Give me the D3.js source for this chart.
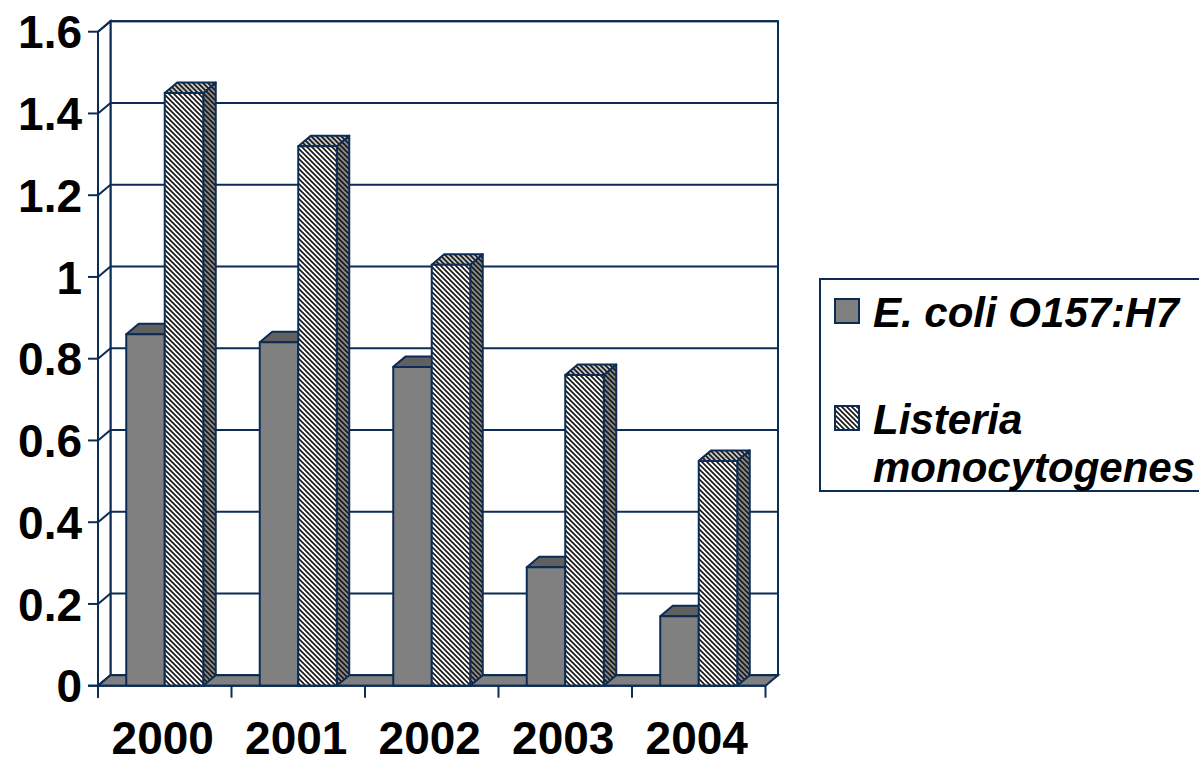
<!DOCTYPE html>
<html>
  <head>
    <script src="https://d3js.org/d3.v7.min.js"></script>
    <style>
      body { margin: 0; background: #fff; }
      svg { display: block; }
      .lbl { font-family: "Liberation Sans", Arial, sans-serif; font-weight: bold; fill: #000; }
    </style>
  </head>
  <body>
    <div id="chart"></div>
    <script>
      // data
      const years = ["2000", "2001", "2002", "2003", "2004"];
      const seriesNames = ["E. coli O157:H7", "Listeria monocytogenes"];
      const ecoli = [0.86, 0.84, 0.78, 0.29, 0.17];
      const listeria = [1.45, 1.32, 1.03, 0.76, 0.55];
      const yTicks = [0, 0.2, 0.4, 0.6, 0.8, 1, 1.2, 1.4, 1.6];

      const W = 1199, H = 757;
      const navy = "#0c2c55";
      const dx = 12.5, dy = -10.5; // 3d depth offset

      const svg = d3.select("#chart").append("svg")
        .attr("width", W).attr("height", H);

      // hatch patterns
      const defs = svg.append("defs");
      function hatch(id, bg) {
        const p = defs.append("pattern")
          .attr("id", id)
          .attr("patternUnits", "userSpaceOnUse")
          .attr("width", 5).attr("height", 5);
        p.append("rect").attr("width", 5).attr("height", 5).attr("fill", bg);
        p.append("path")
          .attr("d", "M-1,-1 L6,6 M-1,4 L1,6 M4,-1 L6,1")
          .attr("stroke", "#1a1a1a").attr("stroke-width", 1.7);
      }
      hatch("hFront", "#ffffff");
      hatch("hTop", "#c8c8c8");
      hatch("hSide", "#8a8a8a");

      const x0 = d3.scaleBand().domain(years).range([98, 765.5]);
      const x1 = d3.scaleBand().domain(seriesNames).range([28.25, x0.bandwidth() - 28.25]);
      const y = d3.scaleLinear().domain([0, 1.6]).range([685.7, 31.7]);

      const xL = x0.range()[0], xR = x0.range()[1];
      const y0 = y(0), yTop = y(1.6);

      // back wall
      svg.append("rect")
        .attr("x", xL + dx).attr("y", yTop + dy)
        .attr("width", xR - xL).attr("height", y0 - yTop)
        .attr("fill", "#fff").attr("stroke", navy).attr("stroke-width", 2);

      // left wall
      svg.append("path")
        .attr("d", `M${xL},${yTop} L${xL + dx},${yTop + dy} L${xL + dx},${y0 + dy} L${xL},${y0} Z`)
        .attr("fill", "#fff").attr("stroke", navy).attr("stroke-width", 2);

      // gridlines
      const grid = svg.append("g").attr("stroke", navy).attr("stroke-width", 2).attr("fill", "none");
      yTicks.forEach((v) => {
        grid.append("path")
          .attr("d", `M${xL},${y(v)} L${xL + dx},${y(v) + dy} L${xR + dx},${y(v) + dy}`);
      });

      // floor
      svg.append("path")
        .attr("d", `M${xL},${y0} L${xL + dx},${y0 + dy} L${xR + dx},${y0 + dy} L${xR},${y0} Z`)
        .attr("fill", "#808080").attr("stroke", navy).attr("stroke-width", 2);

      // bars
      const styles = [
        { front: "#808080", top: "#606060", side: "#505050" },
        { front: "url(#hFront)", top: "url(#hTop)", side: "url(#hSide)" }
      ];
      const values = [ecoli, listeria];

      function bar(g, bx, bw, v, st) {
        const yt = y(v);
        g.append("path")
          .attr("d", `M${bx + bw},${yt} L${bx + bw + dx},${yt + dy} L${bx + bw + dx},${y0 + dy} L${bx + bw},${y0} Z`)
          .attr("fill", st.side);
        g.append("path")
          .attr("d", `M${bx},${yt} L${bx + dx},${yt + dy} L${bx + bw + dx},${yt + dy} L${bx + bw},${yt} Z`)
          .attr("fill", st.top);
        g.append("rect")
          .attr("x", bx).attr("y", yt).attr("width", bw).attr("height", y0 - yt)
          .attr("fill", st.front);
      }

      const bars = svg.append("g").attr("stroke", navy).attr("stroke-width", 2).attr("stroke-linejoin", "round");
      years.forEach((yr, i) => {
        seriesNames.forEach((s, j) => {
          bar(bars, x0(yr) + x1(s), x1.bandwidth(), values[j][i], styles[j]);
        });
      });

      // y axis
      const yAxis = svg.append("g").attr("stroke", navy).attr("stroke-width", 2);
      yAxis.append("line").attr("x1", xL).attr("x2", xL).attr("y1", yTop).attr("y2", y0 + 12);
      yTicks.forEach((v) => {
        yAxis.append("line").attr("x1", xL - 10).attr("x2", xL).attr("y1", y(v)).attr("y2", y(v));
      });
      svg.append("g").selectAll("text")
        .data(yTicks).enter().append("text")
        .attr("class", "lbl")
        .attr("x", 82).attr("y", (d) => y(d)).attr("dy", "0.36em")
        .attr("text-anchor", "end")
        .style("font-size", "46px")
        .text((d) => d3.format("~g")(d));

      // x axis
      const xAxis = svg.append("g").attr("stroke", navy).attr("stroke-width", 2);
      xAxis.append("line").attr("x1", xL - 10).attr("x2", xR).attr("y1", y0).attr("y2", y0);
      years.concat([null]).forEach((yr, i) => {
        const xx = i < years.length ? x0(yr) : xR;
        xAxis.append("line").attr("x1", xx).attr("x2", xx).attr("y1", y0).attr("y2", y0 + 12);
      });
      svg.append("g").selectAll("text")
        .data(years).enter().append("text")
        .attr("class", "lbl")
        .attr("x", (d) => x0(d) + x0.bandwidth() / 2 - 2)
        .attr("y", 754)
        .attr("text-anchor", "middle")
        .style("font-size", "46px")
        .text((d) => d);

      // legend
      const lg = svg.append("g");
      lg.append("rect")
        .attr("x", 820).attr("y", 279).attr("width", 420).attr("height", 212)
        .attr("fill", "#fff").attr("stroke", navy).attr("stroke-width", 2);
      const legendLines = [["E. coli O157:H7"], ["Listeria", "monocytogenes"]];
      const legendFills = ["#808080", "url(#hFront)"];
      const legendY = [311, 418];
      legendLines.forEach((lines, i) => {
        lg.append("rect")
          .attr("x", 835).attr("y", legendY[i] - 12).attr("width", 24).attr("height", 24)
          .attr("fill", legendFills[i]).attr("stroke", navy).attr("stroke-width", 2);
        lines.forEach((t, k) => {
          lg.append("text")
            .attr("class", "lbl")
            .attr("x", 873).attr("y", legendY[i] + 16 + k * 48)
            .style("font-size", "42px").style("font-style", "italic")
            .text(t);
        });
      });
    </script>
  </body>
</html>
